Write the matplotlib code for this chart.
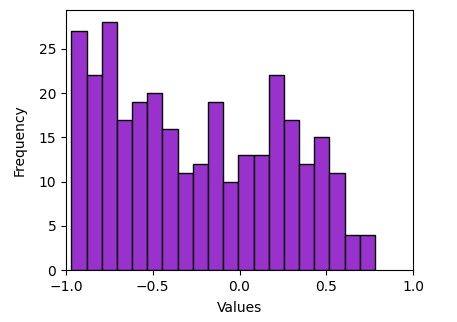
import numpy as np
import matplotlib
matplotlib.use("Agg")
import matplotlib.pyplot as plt

# histogram counts, 20 equal bins
counts = [27, 22, 28, 17, 19, 20, 16, 11, 12, 19, 10, 13, 13, 22, 17, 12, 15, 11, 4, 4]
bin_lo = -0.969
bin_hi = 0.781

edges = np.linspace(bin_lo, bin_hi, len(counts) + 1)
centers = (edges[:-1] + edges[1:]) / 2

fig = plt.figure(figsize=(4.57, 3.22), dpi=100)
ax = fig.add_axes([66/457, 1 - 270/322, (413 - 66)/457, (270 - 10)/322])
ax.hist(centers, bins=edges, weights=counts, color='darkorchid', edgecolor='black')
ax.set_xlim(-1, 1)
ax.set_xticks([-1.0, -0.5, 0.0, 0.5, 1.0])
ax.set_xlabel('Values', labelpad=5)
ax.set_ylabel('Frequency', labelpad=9)

fig.savefig('out.png', dpi=100)
